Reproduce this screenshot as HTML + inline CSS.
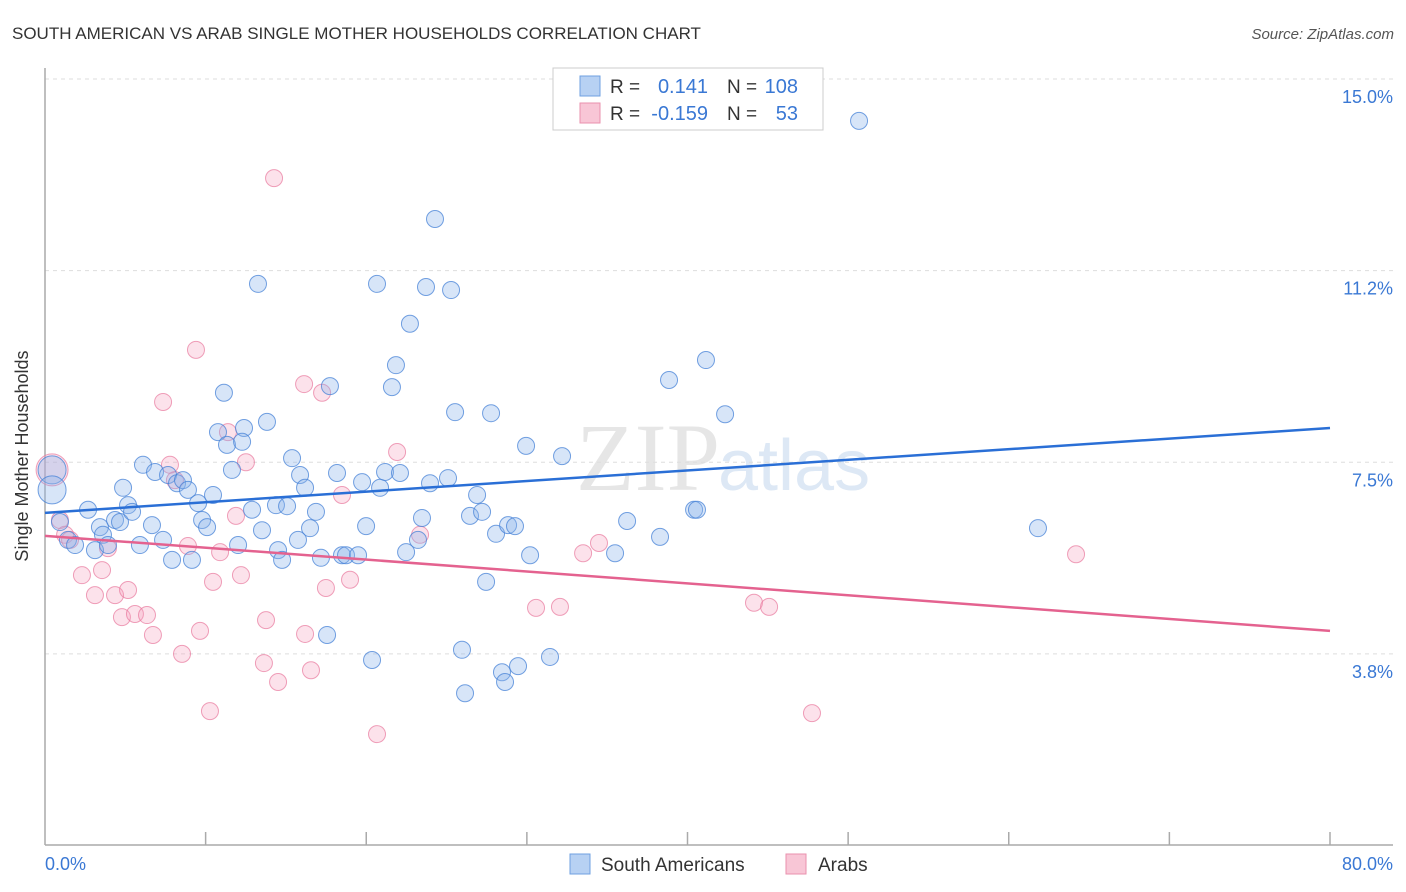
<!DOCTYPE html>
<html><head><meta charset="utf-8"><style>
body{margin:0;background:#fff;font-family:"Liberation Sans",sans-serif;}
svg{display:block}
</style></head><body>
<svg id="chart" width="1406" height="892">
<text x="12" y="39" font-size="17" fill="#333">SOUTH AMERICAN VS ARAB SINGLE MOTHER HOUSEHOLDS CORRELATION CHART</text>
<text x="1394" y="39" font-size="15" fill="#555" font-style="italic" text-anchor="end">Source: ZipAtlas.com</text>
<text x="720" y="490" font-size="96" fill="#e6e6e6" text-anchor="end" font-family="Liberation Serif">ZIP</text>
<text x="718" y="490" font-size="72" fill="#dde8f5">atlas</text>
<g id="grid"></g>
<line x1="45" y1="68" x2="45" y2="845" stroke="#aaa" stroke-width="1.5"/>
<line x1="45" y1="845" x2="1393" y2="845" stroke="#aaa" stroke-width="1.5"/>
<g id="ticks"></g>
<text x="28" y="456" font-size="18" fill="#333" text-anchor="middle" transform="rotate(-90 28 456)">Single Mother Households</text>
<text x="45" y="870" font-size="18" fill="#3a78d4">0.0%</text>
<text x="1393" y="870" font-size="18" fill="#3a78d4" text-anchor="end">80.0%</text>
<g id="pts"></g>
<g id="trend"></g>
<g>
<rect x="553" y="68" width="270" height="62" fill="#fff" stroke="#ccc"/>
<rect x="580" y="76" width="20" height="20" fill="#b7d1f3" stroke="#6fa0e0"/>
<rect x="580" y="103" width="20" height="20" fill="#f8c6d6" stroke="#ea90ae"/>
<text x="610" y="93" font-size="19" fill="#333">R =</text>
<text x="708" y="93" font-size="20" fill="#3a78d4" text-anchor="end">0.141</text>
<text x="727" y="93" font-size="19" fill="#333">N =</text>
<text x="798" y="93" font-size="20" fill="#3a78d4" text-anchor="end">108</text>
<text x="610" y="120" font-size="19" fill="#333">R =</text>
<text x="708" y="120" font-size="20" fill="#3a78d4" text-anchor="end">-0.159</text>
<text x="727" y="120" font-size="19" fill="#333">N =</text>
<text x="798" y="120" font-size="20" fill="#3a78d4" text-anchor="end">53</text>
</g>
<g>
<rect x="570" y="854" width="20" height="20" fill="#b7d1f3" stroke="#6fa0e0"/>
<text x="601" y="871" font-size="19" fill="#333">South Americans</text>
<rect x="786" y="854" width="20" height="20" fill="#f8c6d6" stroke="#ea90ae"/>
<text x="818" y="871" font-size="19" fill="#333">Arabs</text>
</g>
</svg>
<script>
const yTicks=[15.0,11.25,7.5,3.75];
const yTickLabels=["15.0%","11.2%","7.5%","3.8%"];
const xTicks=[10,20,30,40,50,60,70,80];
const blueX=[0.44,0.44,0.93,1.43,1.87,2.68,3.11,3.42,3.61,3.92,4.36,4.67,4.86,5.17,5.42,5.91,6.1,6.66,6.85,7.35,7.66,7.91,8.22,8.59,8.9,9.15,9.53,9.78,10.09,10.46,10.77,11.14,11.33,11.64,12.02,12.39,12.27,12.89,13.26,13.51,13.82,14.38,14.51,14.76,15.07,15.38,15.88,16.19,16.5,15.75,16.87,17.18,17.56,17.74,18.18,18.49,18.74,19.49,19.74,19.99,20.36,20.67,20.86,21.17,21.6,21.85,22.1,22.48,22.72,23.22,23.47,23.72,23.97,24.28,25.09,25.28,25.53,25.96,26.15,26.46,26.9,27.21,27.46,27.77,28.08,28.45,28.64,28.83,29.26,29.45,29.95,30.2,31.44,32.19,35.49,36.24,38.29,38.85,40.41,40.59,41.15,42.34,50.68,61.82];
const blueY=[7.35,6.96,6.33,5.98,5.88,6.57,5.78,6.23,6.08,5.88,6.37,6.33,7.0,6.66,6.53,5.88,7.45,6.27,7.31,5.98,7.25,5.59,7.09,7.15,6.96,5.59,6.70,6.37,6.23,6.86,8.09,8.86,7.84,7.35,5.88,8.17,7.9,6.57,10.99,6.17,8.29,6.66,5.78,5.59,6.64,7.58,7.25,7.0,6.21,5.98,6.53,5.63,4.12,8.99,7.29,5.68,5.68,5.68,7.11,6.25,3.63,10.99,7.0,7.31,8.97,9.40,7.29,5.74,10.21,5.98,6.41,10.93,7.09,12.26,7.19,10.87,8.48,3.83,2.98,6.45,6.86,6.53,5.16,8.46,6.10,3.39,3.2,6.27,6.25,3.51,7.82,5.68,3.69,7.62,5.72,6.35,6.04,9.11,6.57,6.57,9.5,8.44,14.18,6.21];
const pinkX=[0.44,0.93,1.25,1.56,2.3,3.11,3.55,3.92,4.36,4.79,5.17,5.6,6.35,6.72,7.35,7.78,8.09,8.53,8.9,9.4,9.65,10.27,10.46,10.9,11.39,11.89,12.2,12.51,13.63,13.76,14.26,14.51,16.13,16.19,16.56,17.25,17.49,18.49,18.99,20.67,21.92,23.35,30.57,32.06,33.5,34.49,44.14,45.08,47.75,64.19];
const pinkY=[7.35,6.37,6.08,5.98,5.29,4.9,5.39,5.82,4.9,4.47,5.0,4.53,4.51,4.12,8.68,7.45,7.15,3.75,5.86,9.7,4.2,2.63,5.16,5.74,8.09,6.45,5.29,7.5,3.57,4.41,13.06,3.2,9.03,4.14,3.43,8.86,5.04,6.86,5.2,2.18,7.7,6.08,4.65,4.67,5.72,5.92,4.75,4.67,2.59,5.7];
const blueTrend=[6.51,8.17];
const pinkTrend=[6.06,4.20];
const NS="http://www.w3.org/2000/svg";
function xs(v){return 45+v/80*1285;}
function ys(v){return 79+(15-v)*51.1;}
function mk(tag,attrs,parent){const e=document.createElementNS(NS,tag);for(const k in attrs)e.setAttribute(k,attrs[k]);parent.appendChild(e);return e;}
const grid=document.getElementById('grid');
yTicks.forEach((t,i)=>{
 const l=mk('line',{x1:45,x2:1393,y1:ys(t),y2:ys(t),stroke:'#ddd','stroke-dasharray':'4,4'},grid);
 
 
 const tx=mk('text',{x:1393,y:ys(t)+24,'font-size':18,fill:'#3a78d4','text-anchor':'end'},grid);
 tx.textContent=yTickLabels[i];
 
 
});
const ticks=document.getElementById('ticks');
xTicks.forEach(t=>{
 const l=mk('line',{x1:xs(t),x2:xs(t),y1:832,y2:845,stroke:'#aaa','stroke-width':1.5},ticks);
 
 
});
const pts=document.getElementById('pts');
pinkX.forEach((x,i)=>{
 const c=mk('circle',{cx:xs(x),cy:ys(pinkY[i]),r:i==0?16:8.5,fill:'rgba(244,160,188,0.3)',stroke:'rgba(232,120,156,0.7)','stroke-width':1},pts);
 
 
});
blueX.forEach((x,i)=>{
 const c=mk('circle',{cx:xs(x),cy:ys(blueY[i]),r:i<2?14:8.5,fill:'rgba(140,180,235,0.35)',stroke:'rgba(70,130,215,0.75)','stroke-width':1},pts);
 
 
});
const tr=document.getElementById('trend');
const bl=mk('line',{x1:xs(0),x2:xs(80),y1:ys(blueTrend[0]),y2:ys(blueTrend[1]),stroke:'#2a6fd6','stroke-width':2.5},tr);


const pl=mk('line',{x1:xs(0),x2:xs(80),y1:ys(pinkTrend[0]),y2:ys(pinkTrend[1]),stroke:'#e4628f','stroke-width':2.5},tr);


</script>
</body></html>
